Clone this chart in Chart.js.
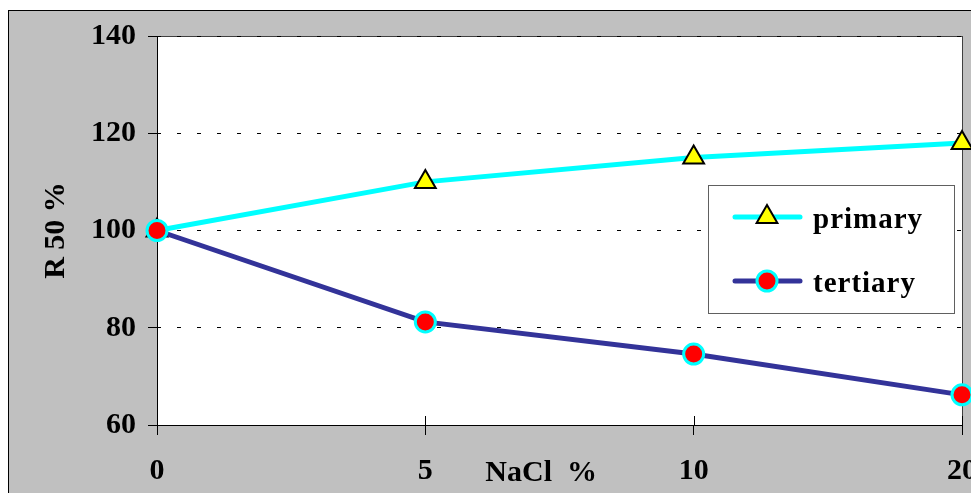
<!DOCTYPE html>
<html>
<head>
<meta charset="utf-8">
<script src="https://cdn.jsdelivr.net/npm/chart.js"></script>
<style>
  html, body { margin: 0; padding: 0; background: #fff; overflow: hidden; }
  canvas { display: block; }
</style>
</head>
<body>
<canvas id="chart" width="1010" height="530"></canvas>
<script>
// NaCl concentration (%), shown as evenly spaced categories
const nacl = ['0', '5', '10', '20']
const primary = [100, 110, 115, 118]
const tertiary = [100, 81.2, 74.6, 66.2]
const yTicks = [60, 80, 100, 120, 140]

const serif = "'Liberation Serif', 'Times New Roman', serif"

const frame = {
  id: 'frame',
  beforeDraw(chart) {
    const { ctx, chartArea: a, width, height } = chart
    ctx.save()
    ctx.fillStyle = '#ffffff'
    ctx.fillRect(0, 0, width, height)
    ctx.fillStyle = '#c0c0c0'
    ctx.fillRect(8, 10, width, height)
    ctx.strokeStyle = '#000000'
    ctx.lineWidth = 1
    ctx.strokeRect(8.5, 10.5, width + 10, height + 10)
    ctx.fillStyle = '#ffffff'
    ctx.fillRect(a.left, a.top, a.right - a.left, a.bottom - a.top)
    ctx.strokeStyle = '#404040'
    ctx.strokeRect(a.left + 0.5, a.top + 0.5, a.right - a.left, a.bottom - a.top)
    ctx.restore()
  },
  afterDraw(chart) {
    const { ctx, chartArea: a } = chart
    const x = chart.scales.x
    ctx.save()
    // inner half of the category tick marks
    ctx.strokeStyle = '#000000'
    ctx.lineWidth = 1
    x.ticks.forEach((t, i) => {
      const px = Math.round(x.getPixelForTick(i)) + 0.5
      ctx.beginPath()
      ctx.moveTo(px, a.bottom - 9)
      ctx.lineTo(px, a.bottom)
      ctx.stroke()
    })
    // axis title on the tick label line
    ctx.fillStyle = '#000000'
    ctx.font = 'bold 30px ' + serif
    ctx.textAlign = 'left'
    ctx.textBaseline = 'alphabetic'
    ctx.fillText('NaCl  %', x.getPixelForTick(1) + 60, a.bottom + 56)

    // legend box
    const bx = 708, by = 185, bw = 246, bh = 128
    ctx.fillStyle = '#ffffff'
    ctx.fillRect(bx, by, bw, bh)
    ctx.strokeStyle = '#606060'
    ctx.strokeRect(bx + 0.5, by + 0.5, bw, bh)
    chart.data.datasets.forEach((ds, i) => {
      const ly = by + 32 + i * 64
      ctx.strokeStyle = ds.borderColor
      ctx.lineWidth = ds.borderWidth
      ctx.lineCap = 'round'
      ctx.beginPath()
      ctx.moveTo(bx + 27, ly)
      ctx.lineTo(bx + 92, ly)
      ctx.stroke()
      const mx = bx + 59
      ctx.fillStyle = ds.pointBackgroundColor
      ctx.strokeStyle = ds.pointBorderColor
      ctx.lineWidth = ds.pointBorderWidth
      ctx.beginPath()
      if (ds.pointStyle === 'triangle') {
        const r = ds.pointRadius
        for (let k = 0; k < 3; k++) {
          const ang = k * 2 * Math.PI / 3
          const px = mx + Math.sin(ang) * r
          const py = ly - Math.cos(ang) * r
          if (k === 0) ctx.moveTo(px, py); else ctx.lineTo(px, py)
        }
        ctx.closePath()
      } else {
        ctx.arc(mx, ly, ds.pointRadius, 0, Math.PI * 2)
      }
      ctx.fill()
      ctx.stroke()
      ctx.fillStyle = '#000000'
      ctx.font = 'bold 29px ' + serif
      ctx.letterSpacing = '1px'
      ctx.textAlign = 'left'
      ctx.fillText(ds.label, bx + 105, ly + 11)
      ctx.letterSpacing = '0px'
    })
    ctx.restore()
  }
}

new Chart(document.getElementById('chart'), {
  type: 'line',
  data: {
    labels: nacl,
    datasets: [
      {
        label: 'primary',
        data: primary,
        borderColor: '#00ffff',
        borderWidth: 5,
        pointStyle: 'triangle',
        pointRadius: 12,
        pointHoverRadius: 12,
        pointBackgroundColor: '#ffff00',
        pointBorderColor: '#000000',
        pointBorderWidth: 2,
        clip: false,
        order: 1
      },
      {
        label: 'tertiary',
        data: tertiary,
        borderColor: '#333399',
        borderWidth: 5,
        pointStyle: 'circle',
        pointRadius: 10,
        pointHoverRadius: 10,
        pointBackgroundColor: '#ff0000',
        pointBorderColor: '#00ffff',
        pointBorderWidth: 3,
        clip: false,
        order: 0
      }
    ]
  },
  options: {
    responsive: false,
    animation: false,
    layout: { padding: { left: 0, top: 36, right: 48, bottom: 0 } },
    plugins: { legend: { display: false }, tooltip: { enabled: false } },
    scales: {
      x: {
        type: 'category',
        offset: false,
        grid: { drawOnChartArea: false, tickLength: 10, tickColor: '#000000' },
        border: { color: '#000000', width: 1 },
        ticks: { color: '#000000', font: { family: serif, size: 30, weight: 'bold' }, padding: 18, maxRotation: 0 },
        afterFit(s) { s.height = 105 }
      },
      y: {
        min: 60,
        max: 140,
        afterBuildTicks(s) { s.ticks = yTicks.map(v => ({ value: v })) },
        grid: { color: '#000000', lineWidth: 1, tickLength: 9, tickColor: '#000000' },
        border: { color: '#000000', width: 1, dash: [4, 16], dashOffset: 1 },
        ticks: { color: '#000000', font: { family: serif, size: 30, weight: 'bold' }, padding: 12 },
        title: {
          display: true,
          text: 'R 50 %',
          color: '#000000',
          font: { family: serif, size: 30, weight: 'bold' },
          padding: { top: 38, bottom: 0 }
        },
        afterFit(s) { s.width = 157 }
      }
    }
  },
  plugins: [frame]
})
</script>
</body>
</html>
